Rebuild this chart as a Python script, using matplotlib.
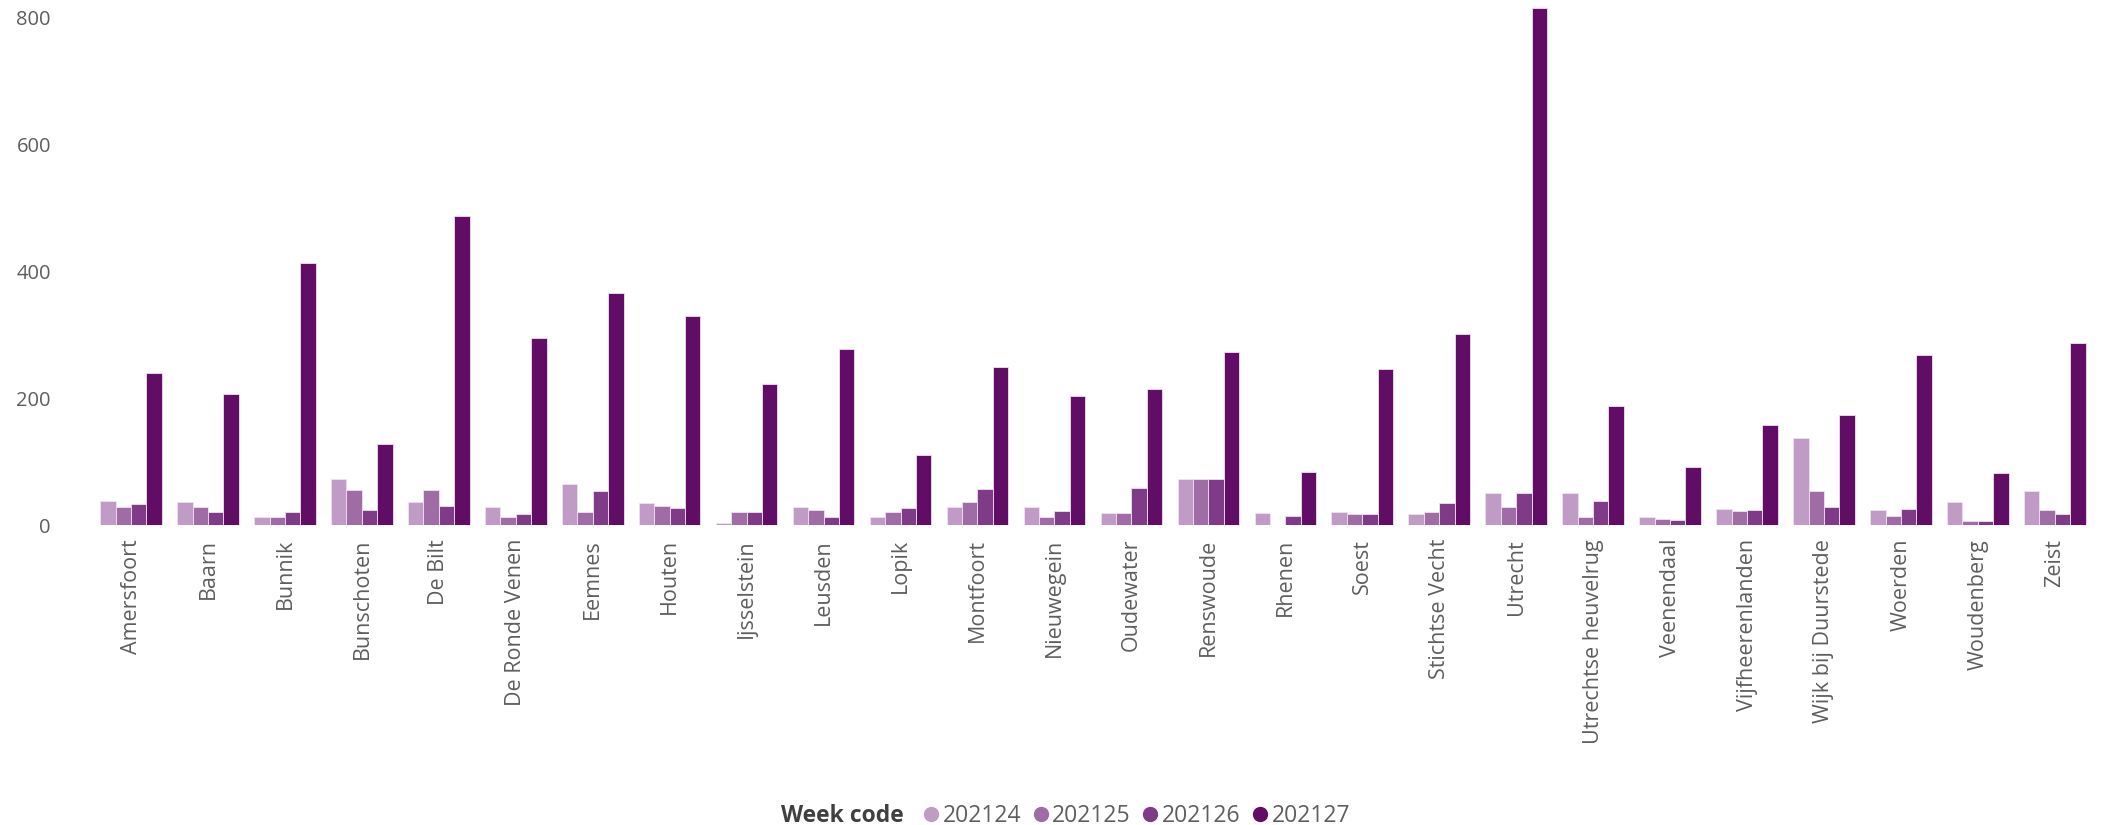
import numpy as np
import matplotlib
matplotlib.use('Agg')
from matplotlib import pyplot as plt
from matplotlib.lines import Line2D

# gemeenten en weekcijfers
gemeenten = ['Amersfoort', 'Baarn', 'Bunnik', 'Bunschoten', 'De Bilt', 'De Ronde Venen',
             'Eemnes', 'Houten', 'Ijsselstein', 'Leusden', 'Lopik', 'Montfoort',
             'Nieuwegein', 'Oudewater', 'Renswoude', 'Rhenen', 'Soest', 'Stichtse Vecht',
             'Utrecht', 'Utrechtse heuvelrug', 'Veenendaal', 'Vijfheerenlanden',
             'Wijk bij Duurstede', 'Woerden', 'Woudenberg', 'Zeist']

weken = ['202124', '202125', '202126', '202127']

w202124 = [38, 36, 13, 72, 37, 29, 65, 34, 3, 29, 13, 28, 29, 19, 72, 19, 20, 18, 50, 51, 13, 26, 137, 23, 37, 54]
w202125 = [28, 28, 13, 55, 55, 13, 21, 30, 20, 23, 20, 36, 13, 19, 72, 0, 17, 20, 29, 13, 10, 22, 54, 15, 6, 23]
w202126 = [33, 20, 20, 23, 30, 18, 54, 27, 20, 13, 27, 57, 22, 58, 72, 14, 17, 35, 51, 38, 8, 24, 29, 26, 6, 18]
w202127 = [240, 207, 412, 127, 486, 295, 365, 329, 222, 277, 110, 249, 204, 214, 273, 83, 245, 301, 815, 188, 91, 157, 174, 268, 82, 287]

kleuren = ['#C09BC6', '#A06CA6', '#7F3B88', '#620D65']

plt.rcParams['font.family'] = ['Open Sans', 'DejaVu Sans']

fig = plt.figure(figsize=(21.23, 8.25), dpi=100)
ax = fig.add_axes([0.0436, 0.3636, 0.9424, 0.6364])

x = np.arange(len(gemeenten))
breedte = 0.2
reeksen = [w202124, w202125, w202126, w202127]
for i, (waarden, kleur) in enumerate(zip(reeksen, kleuren)):
    ax.bar(x + (i - 1.5) * breedte, waarden, breedte, color=kleur,
           edgecolor='#EFE3F0', linewidth=0.6, label=weken[i])

ax.set_xlim(-0.5, len(gemeenten) - 0.5)
ax.set_ylim(0, 827)
ax.set_yticks([0, 200, 400, 600, 800])
ax.set_xticks(x)
ax.set_xticklabels(gemeenten, rotation=90, fontsize=15.5, color='#605E5C')
ax.tick_params(axis='y', length=0, pad=30, labelsize=14.5, labelcolor='#605E5C')
ax.tick_params(axis='x', length=0, pad=10)
for s in ax.spines.values():
    s.set_visible(False)

# legenda
fig.text(781 / 2123, 1 - 816 / 825, 'Week code', fontsize=16.5, fontweight='bold',
         color='#404040', va='center', ha='left')
handles = [Line2D([], [], marker='o', linestyle='', markersize=10, color=k) for k in kleuren]
fig.legend(handles, weken, loc='center left', bbox_to_anchor=(920 / 2123, 1 - 816 / 825),
           ncol=4, frameon=False, fontsize=16.5, labelcolor='#605E5C', handletextpad=0.0,
           columnspacing=0.35, handlelength=1.0, borderpad=0, borderaxespad=0)

plt.savefig('out.png', dpi=100)
